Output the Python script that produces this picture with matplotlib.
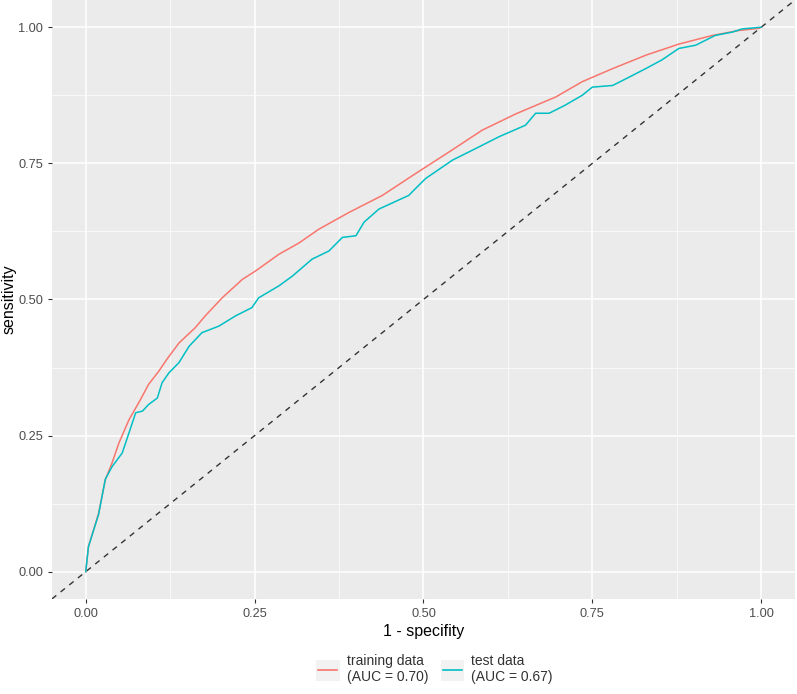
import matplotlib.pyplot as plt
from matplotlib.patches import Rectangle
from matplotlib.lines import Line2D
from matplotlib.legend_handler import HandlerLine2D

plt.rcParams['font.family'] = ['Liberation Sans', 'DejaVu Sans']

# ROC points (1 - specificity, sensitivity)
train_fpr = [0.0, 0.004, 0.019, 0.029, 0.039, 0.049, 0.064, 0.081, 0.093, 0.108,
             0.12, 0.138, 0.162, 0.177, 0.202, 0.232, 0.251, 0.286, 0.316, 0.345,
             0.39, 0.439, 0.488, 0.538, 0.587, 0.637, 0.696, 0.735, 0.78, 0.83,
             0.878, 0.928, 0.967, 0.997, 1.0]
train_tpr = [0.0, 0.046, 0.107, 0.169, 0.2, 0.236, 0.279, 0.316, 0.344, 0.368,
             0.39, 0.42, 0.448, 0.47, 0.503, 0.537, 0.552, 0.583, 0.604, 0.629,
             0.66, 0.691, 0.731, 0.771, 0.811, 0.841, 0.872, 0.9, 0.924, 0.949,
             0.969, 0.985, 0.994, 0.998, 1.0]

test_fpr = [0.0, 0.004, 0.019, 0.029, 0.039, 0.054, 0.064, 0.074, 0.084, 0.093,
            0.106, 0.113, 0.123, 0.138, 0.153, 0.172, 0.197, 0.222, 0.246, 0.256,
            0.286, 0.306, 0.335, 0.36, 0.38, 0.4, 0.412, 0.434, 0.478, 0.503,
            0.543, 0.577, 0.612, 0.651, 0.666, 0.686, 0.71, 0.735, 0.75, 0.78,
            0.804, 0.829, 0.853, 0.878, 0.903, 0.932, 0.957, 0.972, 1.0]
test_tpr = [0.0, 0.046, 0.105, 0.17, 0.193, 0.218, 0.255, 0.292, 0.295, 0.307,
            0.319, 0.347, 0.365, 0.384, 0.414, 0.439, 0.451, 0.47, 0.485, 0.503,
            0.525, 0.543, 0.574, 0.589, 0.614, 0.617, 0.642, 0.666, 0.691, 0.722,
            0.756, 0.777, 0.799, 0.82, 0.842, 0.842, 0.857, 0.875, 0.89, 0.893,
            0.908, 0.924, 0.94, 0.961, 0.967, 0.985, 0.991, 0.997, 1.0]

labels = ['training data\n(AUC = 0.70)', 'test data\n(AUC = 0.67)']
colors = ['#F8766D', '#00BFC4']
ticks = [0, 0.25, 0.5, 0.75, 1.0]
tick_labels = ['0.00', '0.25', '0.50', '0.75', '1.00']


class KeyHandler(HandlerLine2D):
    # ggplot-like legend key: grey box with a line across it
    def create_artists(self, legend, orig_handle, xdescent, ydescent,
                       width, height, fontsize, trans):
        box = Rectangle((-xdescent, -ydescent), width, height,
                        facecolor='#F2F2F2', edgecolor='none', transform=trans)
        y = -ydescent + height / 2
        pad = width * 0.1
        ln = Line2D([-xdescent + pad, -xdescent + width - pad], [y, y],
                    color=orig_handle.get_color(), lw=1.2, transform=trans)
        return [box, ln]


fig = plt.figure(figsize=(7.97, 6.94), dpi=100)
ax = fig.add_axes([0.0652, 0.137, 0.9323, 0.863])
ax.set_facecolor('#EBEBEB')

ax.plot([-0.05, 1.05], [-0.05, 1.05], ls=(0, (4, 4)), color='#333333', lw=1.0, zorder=2)
l1, = ax.plot(train_fpr, train_tpr, color=colors[0], lw=1.1, zorder=3)
l2, = ax.plot(test_fpr, test_tpr, color=colors[1], lw=1.1, zorder=4)

ax.set_xlim(-0.05, 1.05)
ax.set_ylim(-0.05, 1.05)
ax.set_xticks(ticks)
ax.set_xticklabels(tick_labels)
ax.set_yticks(ticks)
ax.set_yticklabels(tick_labels)
ax.set_xticks([0.125, 0.375, 0.625, 0.875], minor=True)
ax.set_yticks([0.125, 0.375, 0.625, 0.875], minor=True)
ax.grid(which='major', color='white', lw=1.1, zorder=0)
ax.grid(which='minor', color='white', lw=0.5, zorder=0)
ax.set_axisbelow(True)
ax.tick_params(which='major', length=3, color='#333333', labelcolor='#4D4D4D', labelsize=9.2)
ax.tick_params(which='minor', length=0)
for s in ax.spines.values():
    s.set_visible(False)

ax.set_xlabel('1 - specifity', fontsize=11.5, color='black', labelpad=3)
ax.set_ylabel('sensitivity', fontsize=11.5, color='black')
ax.yaxis.set_label_coords(-0.048, 0.5)

fig.legend([l1, l2], labels, loc='lower center', bbox_to_anchor=(0.545, 0.006), ncol=2,
           frameon=False, fontsize=10, handler_map={Line2D: KeyHandler()},
           handlelength=1.7, handleheight=1.9, handletextpad=0.5, columnspacing=0.9,
           borderaxespad=0, labelcolor='#333333')

fig.savefig('out.png', dpi=100)
